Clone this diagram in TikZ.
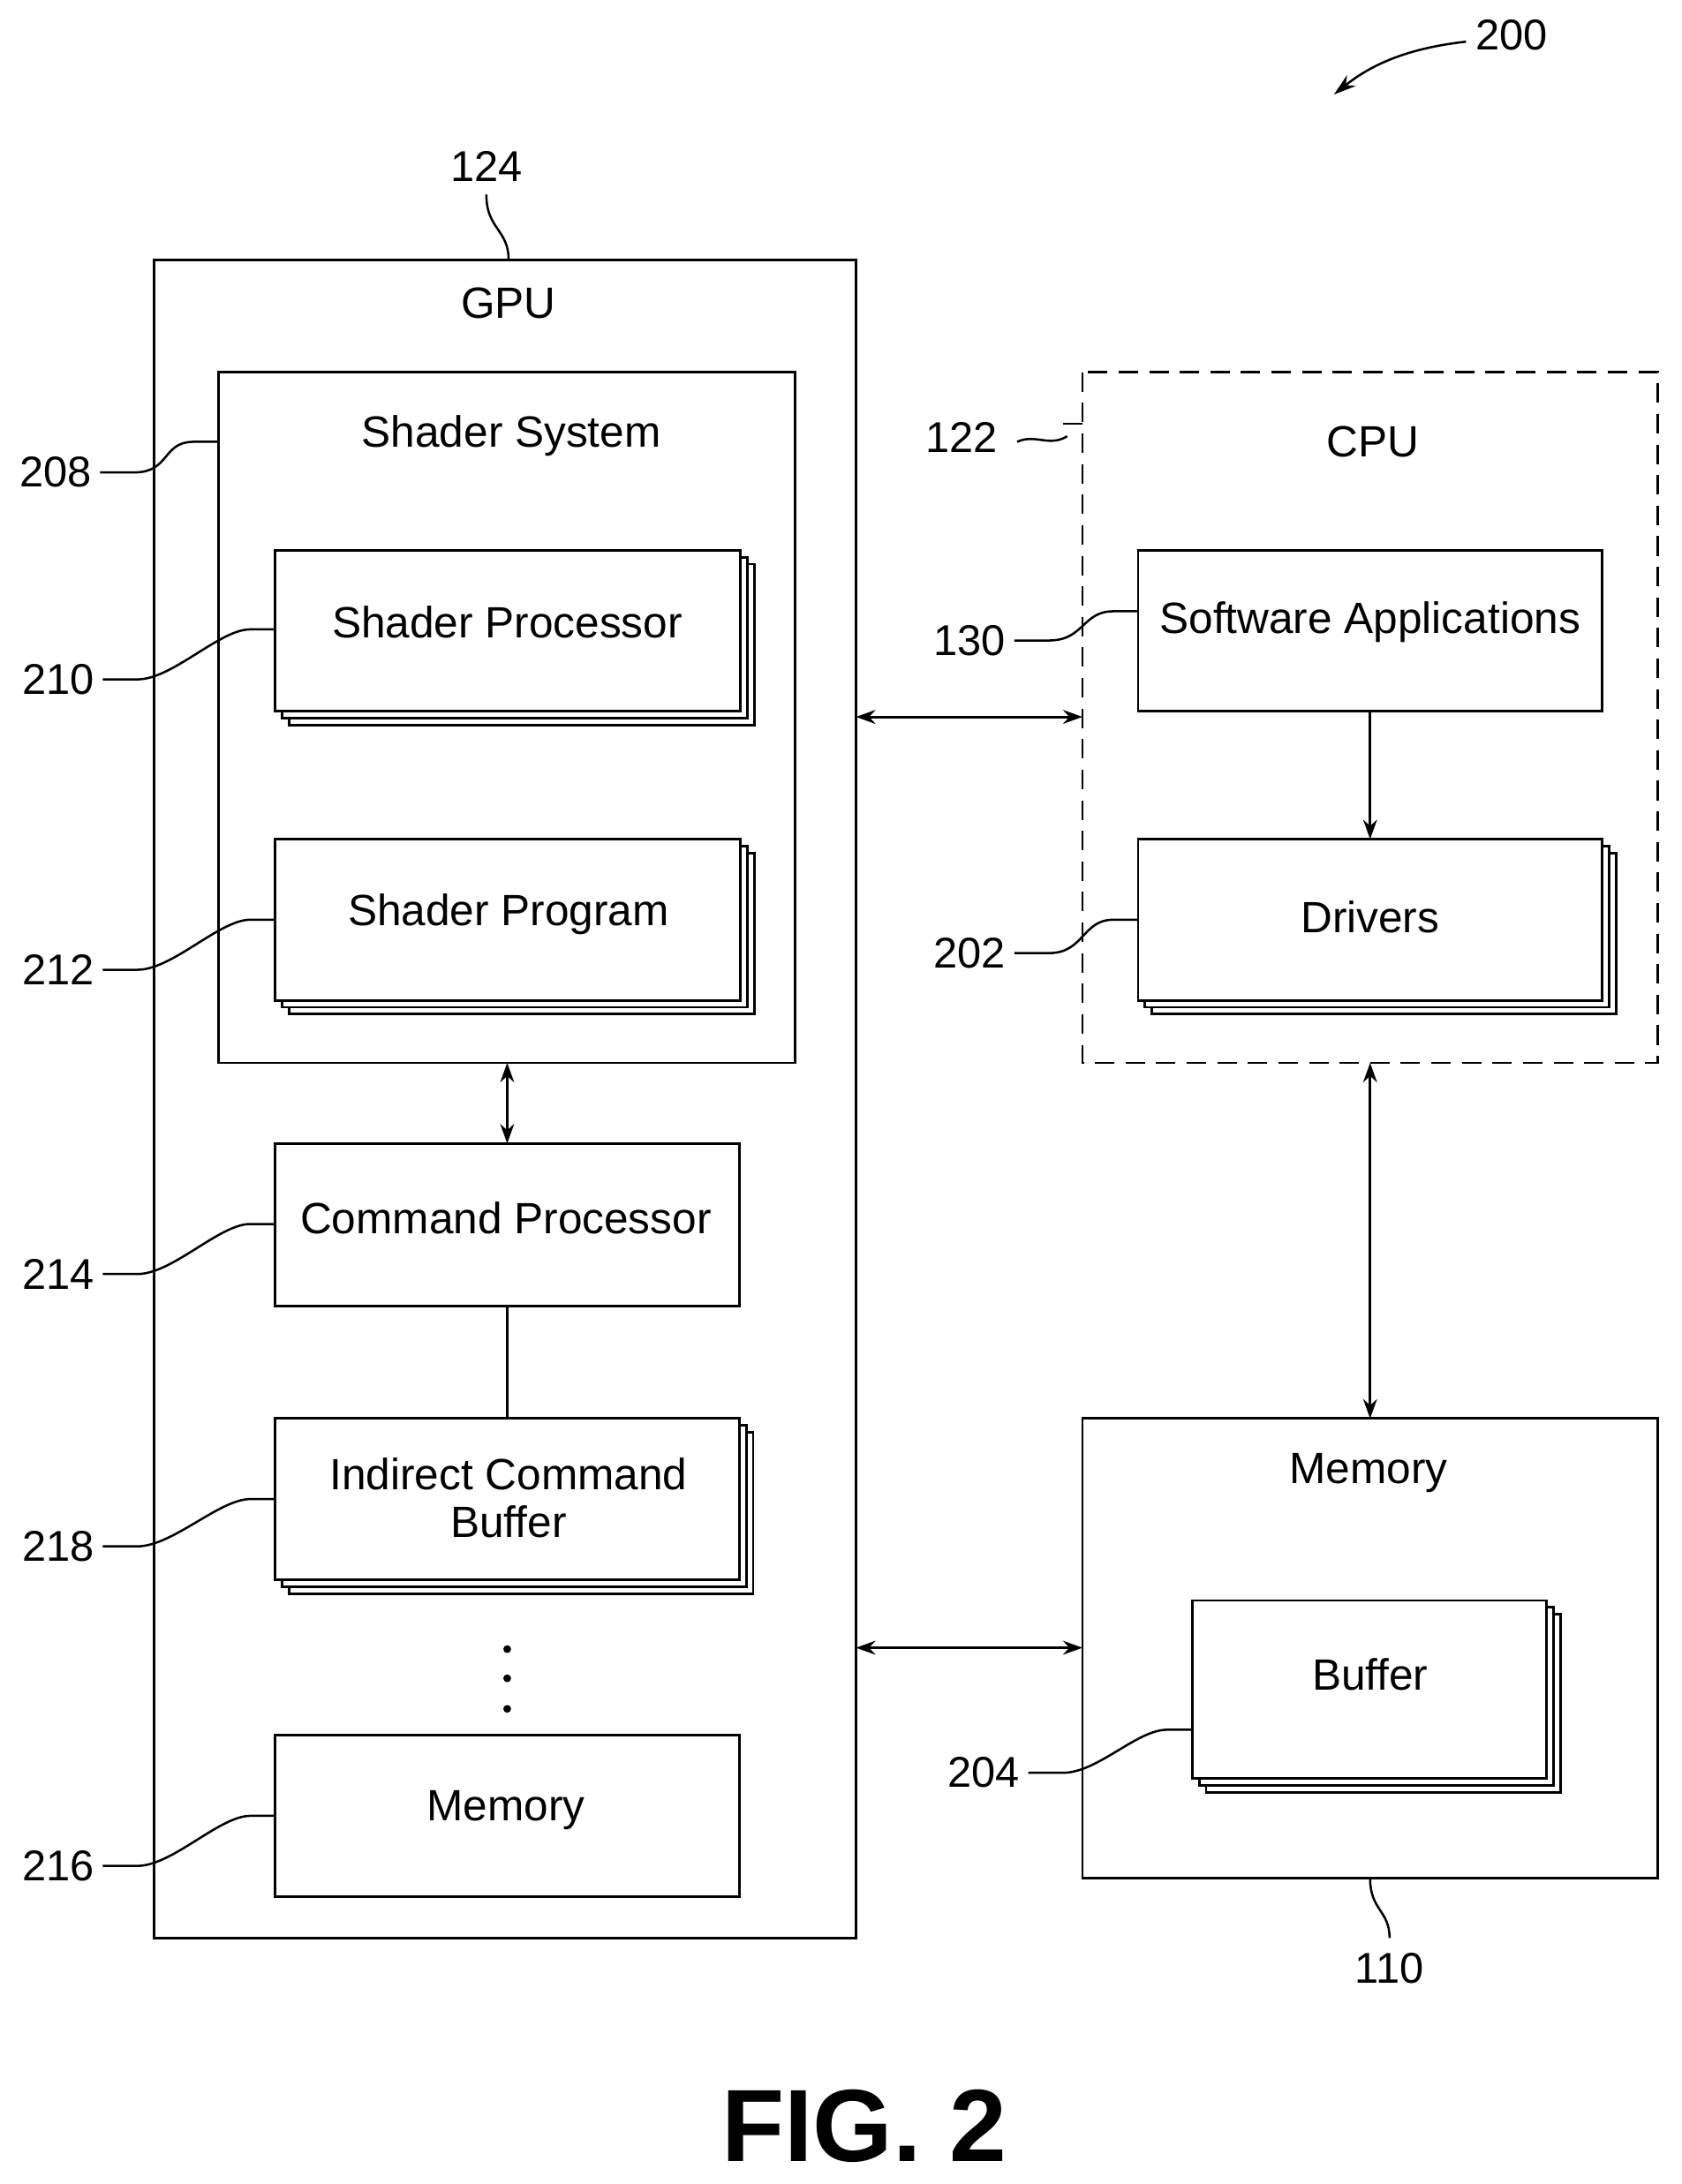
\documentclass[tikz,border=0pt]{standalone}
\usepackage{fontspec}
\setmainfont{Liberation Sans}
\usetikzlibrary{arrows.meta}
\begin{document}
\begin{tikzpicture}[x=1pt,y=-1pt,line width=1.8pt,
 box/.style={draw,fill=white},
 lbl/.style={font=\fontsize{31.5}{34}\selectfont},
 num/.style={font=\fontsize{31}{34}\selectfont},
 ar/.style={{Stealth[length=14pt,width=10pt]}-{Stealth[length=14pt,width=10pt]}},
 lead/.style={line width=1.6pt}]
\useasboundingbox (0,0) rectangle (1210,1572);
\newcommand{\stk}[5]{%
 \draw[box] (#2+10,#3+10) rectangle (#4+10,#5+10);
 \draw[box] (#2+5,#3+5) rectangle (#4+5,#5+5);
 \draw[box] (#2,#3) rectangle (#4,#5);
 \coordinate (#1) at ({(#2+#4)/2},{(#3+#5)/2});}
% GPU
\draw (111,187) rectangle (616,1395);
\node[lbl] (gpu) at (366,218) {GPU};
\draw (157,268) rectangle (572,765);
\node[lbl] (ss) at (368,314) {Shader System};
\stk{sp}{198}{396}{533}{512}
\node[lbl] at (365,448) {Shader Processor};
\stk{spg}{198}{604}{533}{720}
\node[lbl] at (366,658) {Shader Program};
\draw (198,823) rectangle (532,940);
\node[lbl] (cp) at (364,877) {Command Processor};
\stk{icb}{198}{1021}{532}{1137}
\node[lbl,align=center] at (366,1078) {Indirect Command\\Buffer};
\foreach \yy in {1187,1208,1230} \fill (365,\yy) circle (2.8pt);
\draw (198,1249) rectangle (532,1365);
\node[lbl] (gm) at (364,1303) {Memory};
% CPU
\draw[dash pattern=on 14pt off 8pt] (779,268) rectangle (1193,765);
\node[lbl] (cpu) at (988,318) {CPU};
\draw (819,396) rectangle (1153,512);
\node[lbl] (sa) at (986,448) {Software Applications};
\stk{drv}{819}{604}{1153}{720}
\node[lbl] at (986,660) {Drivers};
% Memory
\draw (779,1021) rectangle (1193,1352);
\node[lbl] (mem) at (985,1060) {Memory};
\stk{buf}{858}{1152}{1113}{1280}
\node[lbl] at (986,1205) {Buffer};
% arrows
\draw[ar] (616,516) -- (779,516);
\draw[-{Stealth[length=14pt,width=10pt]}] (986,512) -- (986,604);
\draw[ar] (365,765) -- (365,823);
\draw (365,940) -- (365,1021);
\draw[ar] (986,765) -- (986,1021);
\draw[ar] (616,1186) -- (779,1186);
% labels
\newcommand{\ld}[5]{%
 \node[num,anchor=east] at (#1,#2) {#3};
 \draw[lead] (#1+2,#2) -- ++(25,0) .. controls +(25,0) and (#4-40,#5) .. (#4-18,#5) -- (#4,#5);}
\ld{70}{340}{208}{157}{318}
\ld{72}{489}{210}{198}{453}
\ld{72}{698}{212}{198}{662}
\ld{72}{917}{214}{198}{881}
\ld{72}{1113}{218}{198}{1079}
\ld{72}{1343}{216}{198}{1307}
\ld{728}{461}{130}{819}{440}
\ld{728}{686}{202}{819}{662}
\ld{738}{1276}{204}{858}{1245}
\node[num] (n124) at (350,120) {124};
\draw[lead] (366,187) .. controls (366,165) and (350,165) .. (350,140);
\node[num] (n110) at (1000,1417) {110};
\draw[lead] (986,1352) .. controls (986,1375) and (1000,1375) .. (1000,1395);
\node[num,anchor=east] (n122) at (722,315) {122};
\draw[lead] (732,318) .. controls (745,312) and (755,322) .. (768,314);
\draw[lead] (765,305) -- (779,305);
\node[num] (n200) at (1088,25) {200};
\draw[lead,-{Stealth[length=16pt,width=10pt]}] (1055,30) .. controls (1010,35) and (985,48) .. (960,68);
\node[font=\bfseries\fontsize{74}{78}\selectfont] (fig) at (622,1530) {FIG. 2};
\end{tikzpicture}
\end{document}
